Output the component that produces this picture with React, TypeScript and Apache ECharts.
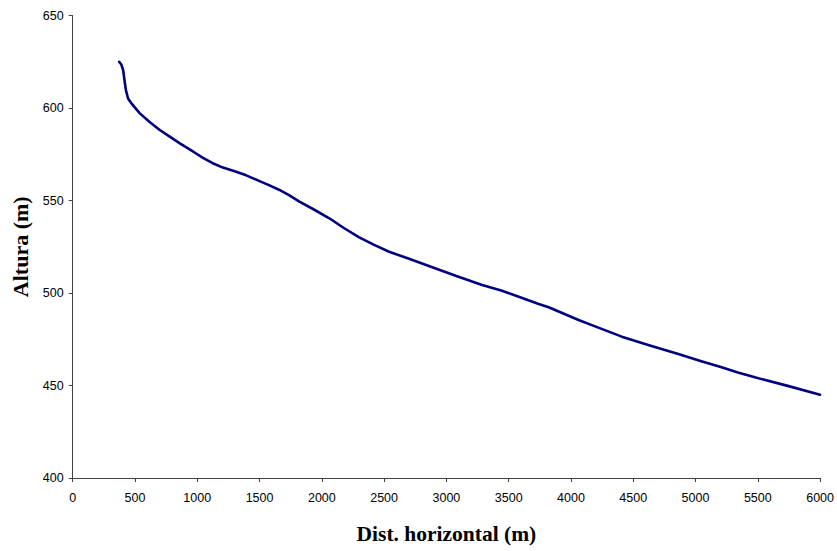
import React, { useEffect, useRef } from "react";
import * as echarts from "echarts";

const distances = [373, 390, 405, 418, 427, 445, 472, 500, 539, 620, 699, 779, 860, 939, 1000, 1046, 1120, 1206, 1300, 1393, 1500, 1580, 1660, 1740, 1820, 1940, 2060, 2180, 2300, 2420, 2540, 2700, 2887, 3080, 3287, 3440, 3581, 3741, 3821, 4061, 4230, 4408, 4640, 4862, 5040, 5209, 5340, 5476, 5740, 6000];
const heights = [625, 623.5, 620.5, 614, 609.7, 605, 602.5, 600.2, 597.1, 592.3, 588.1, 584.5, 580.9, 577.6, 575, 573, 570.3, 567.8, 565.8, 563.6, 560.5, 558.2, 555.7, 552.8, 549.4, 545, 540.4, 535, 530.1, 526, 522.3, 518.5, 513.9, 509.2, 504.3, 501.3, 498, 494.1, 492.3, 485.4, 481, 476.4, 471.5, 467, 463.2, 459.8, 457, 454.4, 449.8, 445];

const xTicks = { min: 0, max: 6000, interval: 500 };
const yTicks = { min: 400, max: 650, interval: 50 };

export default function App() {
  const ref = useRef<HTMLDivElement>(null);
  useEffect(() => {
    if (!ref.current) return;
    const chart = echarts.init(ref.current, null, { renderer: "svg" });
    const axisColor = "#404040";
    const labelStyle = { color: "#000", fontFamily: "Liberation Sans, Arial, sans-serif", fontSize: 12.5 };
    const nameStyle = { color: "#000", fontFamily: "Liberation Serif, Times New Roman, serif", fontWeight: "bold" as const };
    chart.setOption({
      animation: false,
      backgroundColor: "#fff",
      grid: { left: 72.7, right: 16.5, top: 15.5, bottom: 73, containLabel: false },
      xAxis: {
        type: "value",
        min: xTicks.min,
        max: xTicks.max,
        interval: xTicks.interval,
        name: "Dist. horizontal (m)",
        nameLocation: "middle",
        nameGap: 45,
        nameTextStyle: { ...nameStyle, fontSize: 21.5 },
        axisLine: { show: true, lineStyle: { color: axisColor, width: 1 } },
        axisTick: { show: true, length: 4, lineStyle: { color: axisColor } },
        axisLabel: { ...labelStyle, margin: 13, formatter: (v: number) => String(v) },
        splitLine: { show: false },
      },
      yAxis: {
        type: "value",
        min: yTicks.min,
        max: yTicks.max,
        interval: yTicks.interval,
        name: "Altura (m)",
        nameLocation: "middle",
        nameGap: 40,
        nameTextStyle: { ...nameStyle, fontSize: 22 },
        axisLine: { show: true, lineStyle: { color: axisColor, width: 1 } },
        axisTick: { show: true, length: 4, lineStyle: { color: axisColor } },
        axisLabel: { ...labelStyle, margin: 9, formatter: (v: number) => String(v) },
        splitLine: { show: false },
      },
      series: [
        {
          type: "line",
          data: distances.map((d, i) => [d, heights[i]]),
          showSymbol: false,
          smooth: false,
          lineStyle: { color: "#000080", width: 2.6, join: "round", cap: "round" },
        },
      ],
    });
    return () => chart.dispose();
  }, []);
  return (
    <div
      ref={ref}
      style={{ position: "fixed", left: 0, top: 0, width: 837, height: 551, background: "#fff" }}
    />
  );
}
